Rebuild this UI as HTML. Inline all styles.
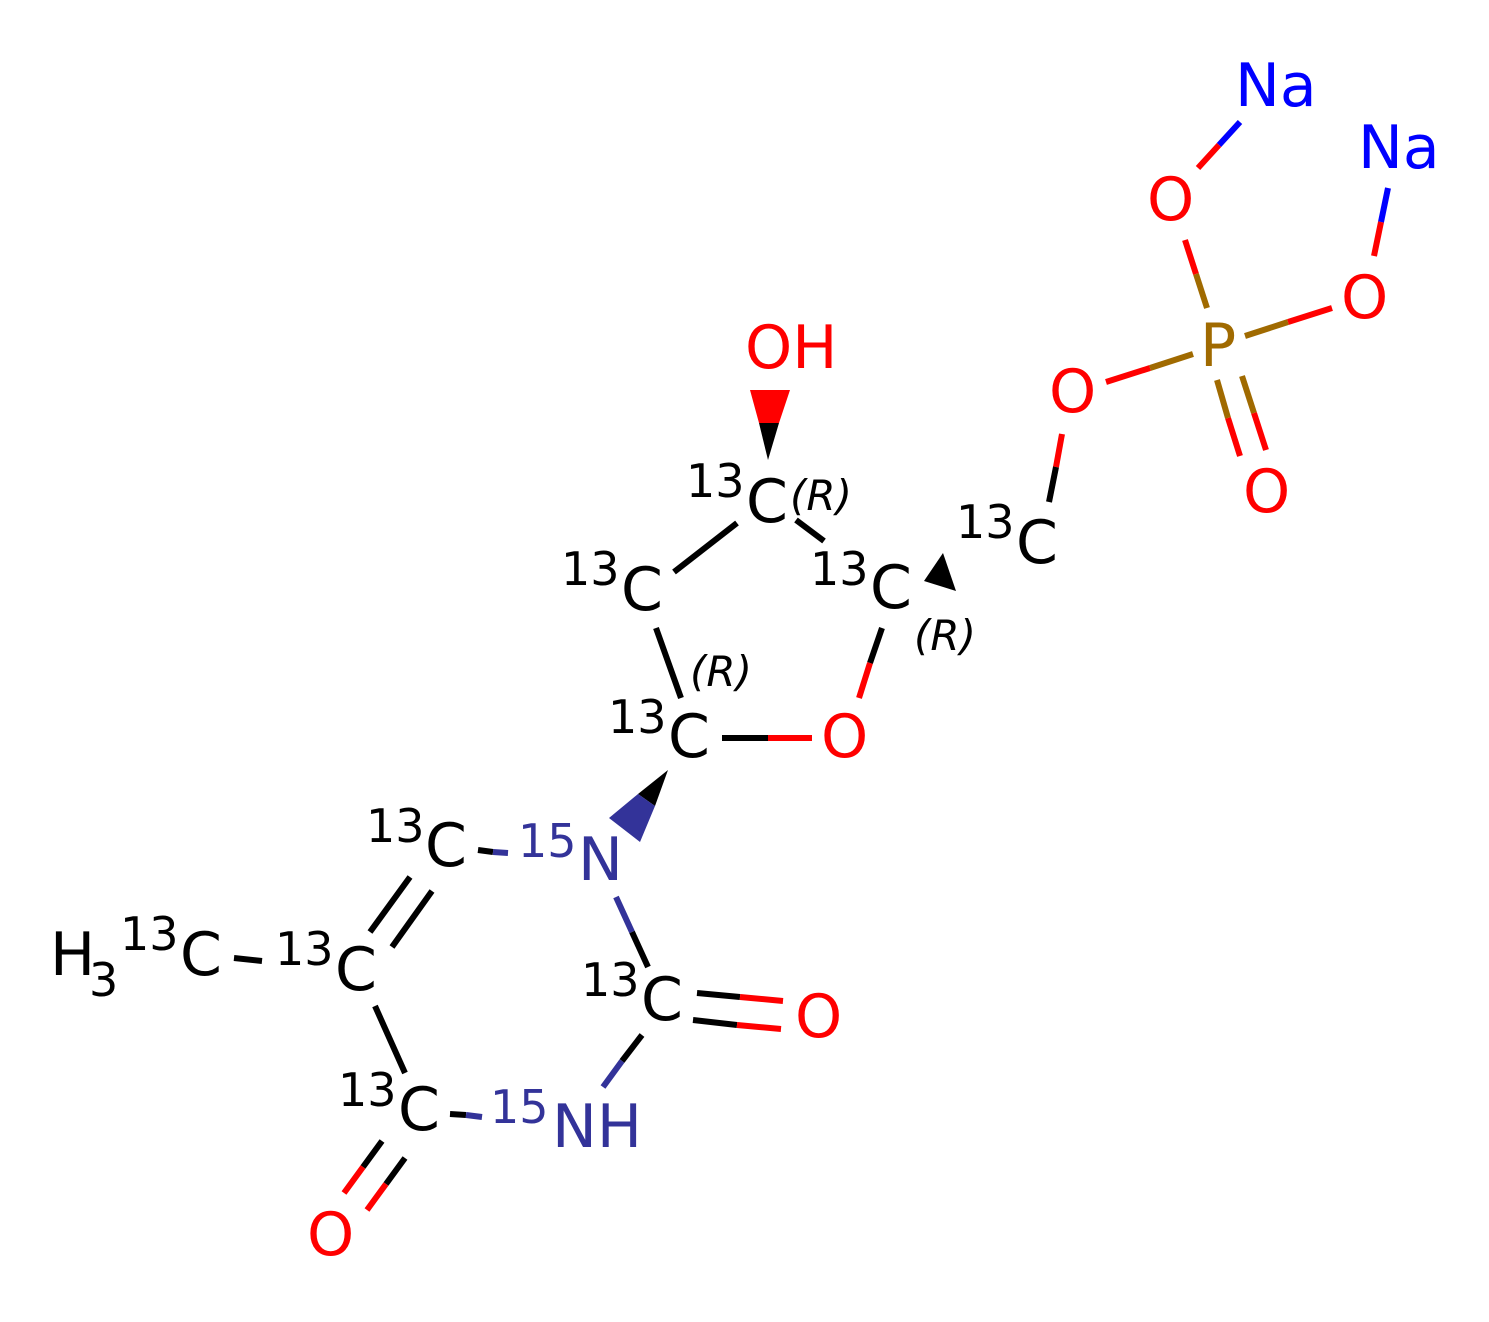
<!DOCTYPE html>
<html><head><meta charset="utf-8"><style>html,body{margin:0;padding:0;background:#fff}svg{display:block}</style></head>
<body>
<svg width="1489" height="1322" viewBox="0 0 1489 1322" xmlns="http://www.w3.org/2000/svg" font-family="'DejaVu Sans','Liberation Sans',sans-serif">
<rect width="1489" height="1322" fill="#fff"/>
<g stroke-width="6" stroke-linecap="butt" fill="none">
<line x1="1240" y1="122" x2="1219" y2="145" stroke="#0000FF"/><line x1="1219" y1="145" x2="1198" y2="168" stroke="#FF0000"/>
<line x1="1388" y1="188" x2="1381" y2="222" stroke="#0000FF"/><line x1="1381" y1="222" x2="1374" y2="256" stroke="#FF0000"/>
<line x1="1185" y1="240" x2="1196" y2="274" stroke="#FF0000"/><line x1="1196" y1="274" x2="1207" y2="308" stroke="#A06A00"/>
<line x1="1245" y1="336" x2="1288" y2="322" stroke="#A06A00"/><line x1="1288" y1="322" x2="1332" y2="308" stroke="#FF0000"/>
<line x1="1193" y1="354" x2="1150" y2="368" stroke="#A06A00"/><line x1="1150" y1="368" x2="1106" y2="382" stroke="#FF0000"/>
<line x1="1217" y1="380" x2="1228" y2="418" stroke="#A06A00"/><line x1="1228" y1="418" x2="1240" y2="456" stroke="#FF0000"/>
<line x1="1242" y1="376" x2="1254" y2="413" stroke="#A06A00"/><line x1="1254" y1="413" x2="1266" y2="450" stroke="#FF0000"/>
<line x1="1062" y1="434" x2="1056" y2="467" stroke="#FF0000"/><line x1="1056" y1="467" x2="1049" y2="502" stroke="#000"/>
<line x1="737" y1="523" x2="674" y2="572" stroke="#000"/>
<line x1="796" y1="520" x2="824" y2="541" stroke="#000"/>
<line x1="656" y1="628" x2="681" y2="698" stroke="#000"/>
<line x1="882" y1="628" x2="870" y2="663" stroke="#000"/><line x1="870" y1="663" x2="859" y2="698" stroke="#FF0000"/>
<line x1="722" y1="738" x2="768" y2="738" stroke="#000"/><line x1="768" y1="738" x2="812" y2="738" stroke="#FF0000"/>
<line x1="478" y1="850" x2="493" y2="852" stroke="#000"/><line x1="493" y1="852" x2="508" y2="853" stroke="#333399"/>
<line x1="410" y1="877" x2="370" y2="932" stroke="#000"/><line x1="432" y1="891" x2="392" y2="947" stroke="#000"/>
<line x1="234" y1="958" x2="262" y2="961" stroke="#000"/>
<line x1="616" y1="897" x2="632" y2="932" stroke="#333399"/><line x1="632" y1="932" x2="648" y2="967" stroke="#000"/>
<line x1="697" y1="993" x2="740" y2="997" stroke="#000"/><line x1="740" y1="997" x2="783" y2="1001" stroke="#FF0000"/>
<line x1="693" y1="1020" x2="737" y2="1025" stroke="#000"/><line x1="737" y1="1025" x2="781" y2="1029" stroke="#FF0000"/>
<line x1="642" y1="1035" x2="622" y2="1061" stroke="#000"/><line x1="622" y1="1061" x2="603" y2="1087" stroke="#333399"/>
<line x1="375" y1="1006" x2="405" y2="1073" stroke="#000"/>
<line x1="450" y1="1114" x2="466" y2="1115" stroke="#000"/><line x1="466" y1="1115" x2="482" y2="1117" stroke="#333399"/>
<line x1="382" y1="1141" x2="363" y2="1167" stroke="#000"/><line x1="363" y1="1167" x2="344" y2="1193" stroke="#FF0000"/>
<line x1="405" y1="1158" x2="386" y2="1184" stroke="#000"/><line x1="386" y1="1184" x2="367" y2="1210" stroke="#FF0000"/>
</g>
<polygon points="943,553 924,581 956,591" fill="#000"/>
<polygon points="750,390 790,390 779,423 759,423" fill="#FF0000"/>
<polygon points="759,423 779,423 768,460" fill="#000"/>
<polygon points="668,770 638,794 655,806" fill="#000"/>
<polygon points="638,794 655,806 640,842 609,818" fill="#333399"/>
<g font-size="60">
<text x="1235" y="106" fill="#0000FF">Na</text>
<text x="1358" y="168" fill="#0000FF">Na</text>
<text x="1147" y="220" fill="#FF0000">O</text>
<text x="1341" y="318" fill="#FF0000">O</text>
<text x="1200" y="366" fill="#A06A00">P</text>
<text x="1049" y="412" fill="#FF0000">O</text>
<text x="1243" y="512" fill="#FF0000">O</text>
<text x="745" y="368" fill="#FF0000">OH</text>
<text x="821" y="757" fill="#FF0000">O</text>
<text x="795" y="1037" fill="#FF0000">O</text>
<text x="307" y="1255" fill="#FF0000">O</text>
<text x="746" y="522">C</text>
<text x="621" y="610">C</text>
<text x="870" y="608">C</text>
<text x="1016" y="563">C</text>
<text x="668" y="757">C</text>
<text x="425" y="866">C</text>
<text x="578" y="880" fill="#333399">N</text>
<text x="50" y="975">H</text>
<text x="180" y="975">C</text>
<text x="335" y="990">C</text>
<text x="641" y="1020">C</text>
<text x="398" y="1130">C</text>
<text x="552" y="1147" fill="#333399">NH</text>
</g>
<g font-size="46">
<text x="686" y="497">13</text>
<text x="561" y="585">13</text>
<text x="810" y="585">13</text>
<text x="956" y="538">13</text>
<text x="608" y="733">13</text>
<text x="366" y="842">13</text>
<text x="518" y="857" fill="#333399">15</text>
<text x="89" y="996">3</text>
<text x="120" y="950">13</text>
<text x="275" y="965">13</text>
<text x="581" y="996">13</text>
<text x="338" y="1106">13</text>
<text x="490" y="1123" fill="#333399">15</text>
</g>
<g font-size="42" font-style="italic">
<text x="790" y="510">(R)</text>
<text x="914" y="650">(R)</text>
<text x="690" y="686">(R)</text>
</g>
</svg>
</body></html>
